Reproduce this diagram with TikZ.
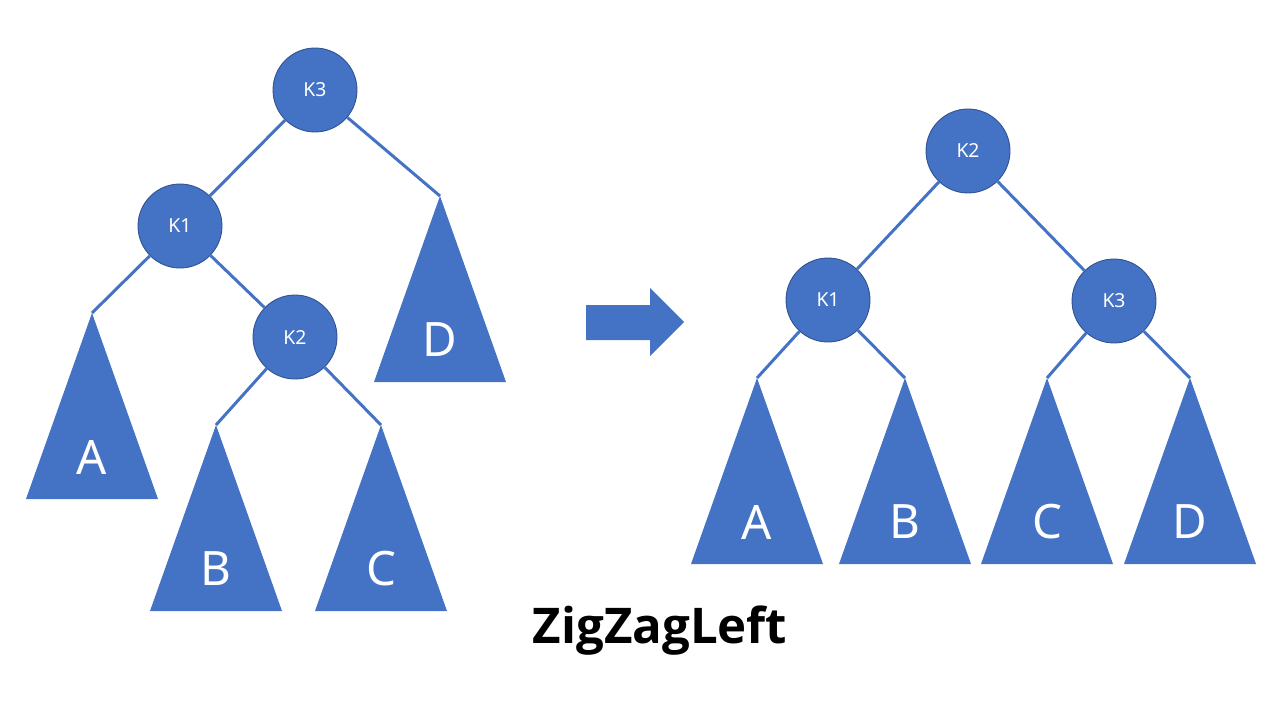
\documentclass[tikz,border=0pt]{standalone}
\usepackage{fontspec}
\setmainfont{Noto Sans}
\newfontfamily\baslikfont{Open Sans}
\definecolor{ofblue}{HTML}{4472C4}
\definecolor{ofedge}{HTML}{2F528F}
\begin{document}
\begin{tikzpicture}[x=0.02cm, y=-0.02cm,
  knot/.style={circle, fill=ofblue, draw=ofedge, line width=0.5pt,
    minimum size=1.68cm, inner sep=0pt, text=white,
    font=\fontsize{11}{13}\selectfont},
  kenar/.style={ofblue, line width=1.7pt},
  harf/.style={text=white, font=\fontsize{27}{30}\selectfont}]
  \useasboundingbox (0,0) rectangle (1280,720);

  % --- before: K3 at the top, K2 hangs under K1 ---
  \node[knot] (lk3) at (315,90) {K3};
  \node[knot] (lk1) at (180,226) {K1};
  \node[knot] (lk2) at (295,337) {K2};

  % --- after: K2 is the new root ---
  \node[knot] (rk2) at (968,151) {K2};
  \node[knot] (rk1) at (828,300) {K1};
  \node[knot] (rk3) at (1114,301) {K3};

  % subtrees
  \foreach \n/\x/\y/\t in {la/92/313/A, lb/216/425/B, lc/381/425/C, ld/440/196/D,
                           ra/757/378/A, rb/905/378/B, rc/1047/378/C, rd/1190/378/D} {
    \coordinate (\n) at (\x,\y);
    \fill[ofblue] (\n) -- ++(-66,186) -- ++(132,0) -- cycle;
    \node[harf] (\n-t) at (\x,{\y+144}) {\t};
  }

  % kenarlar
  \draw[kenar] (lk3) -- (lk1);
  \draw[kenar] (lk3) -- (ld);
  \draw[kenar] (lk1) -- (la);
  \draw[kenar] (lk1) -- (lk2);
  \draw[kenar] (lk2) -- (lb);
  \draw[kenar] (lk2) -- (lc);
  \draw[kenar] (rk2) -- (rk1);
  \draw[kenar] (rk2) -- (rk3);
  \draw[kenar] (rk1) -- (ra);
  \draw[kenar] (rk1) -- (rb);
  \draw[kenar] (rk3) -- (rc);
  \draw[kenar] (rk3) -- (rd);

  % donusum oku
  \fill[ofblue] (586,305) -- (650,305) -- (650,288) -- (684,322)
    -- (650,356) -- (650,340) -- (586,340) -- cycle;

  \node[font=\baslikfont\bfseries\fontsize{28}{32}\selectfont] (baslik) at (660,631) {ZigZagLeft};
\end{tikzpicture}
\end{document}
